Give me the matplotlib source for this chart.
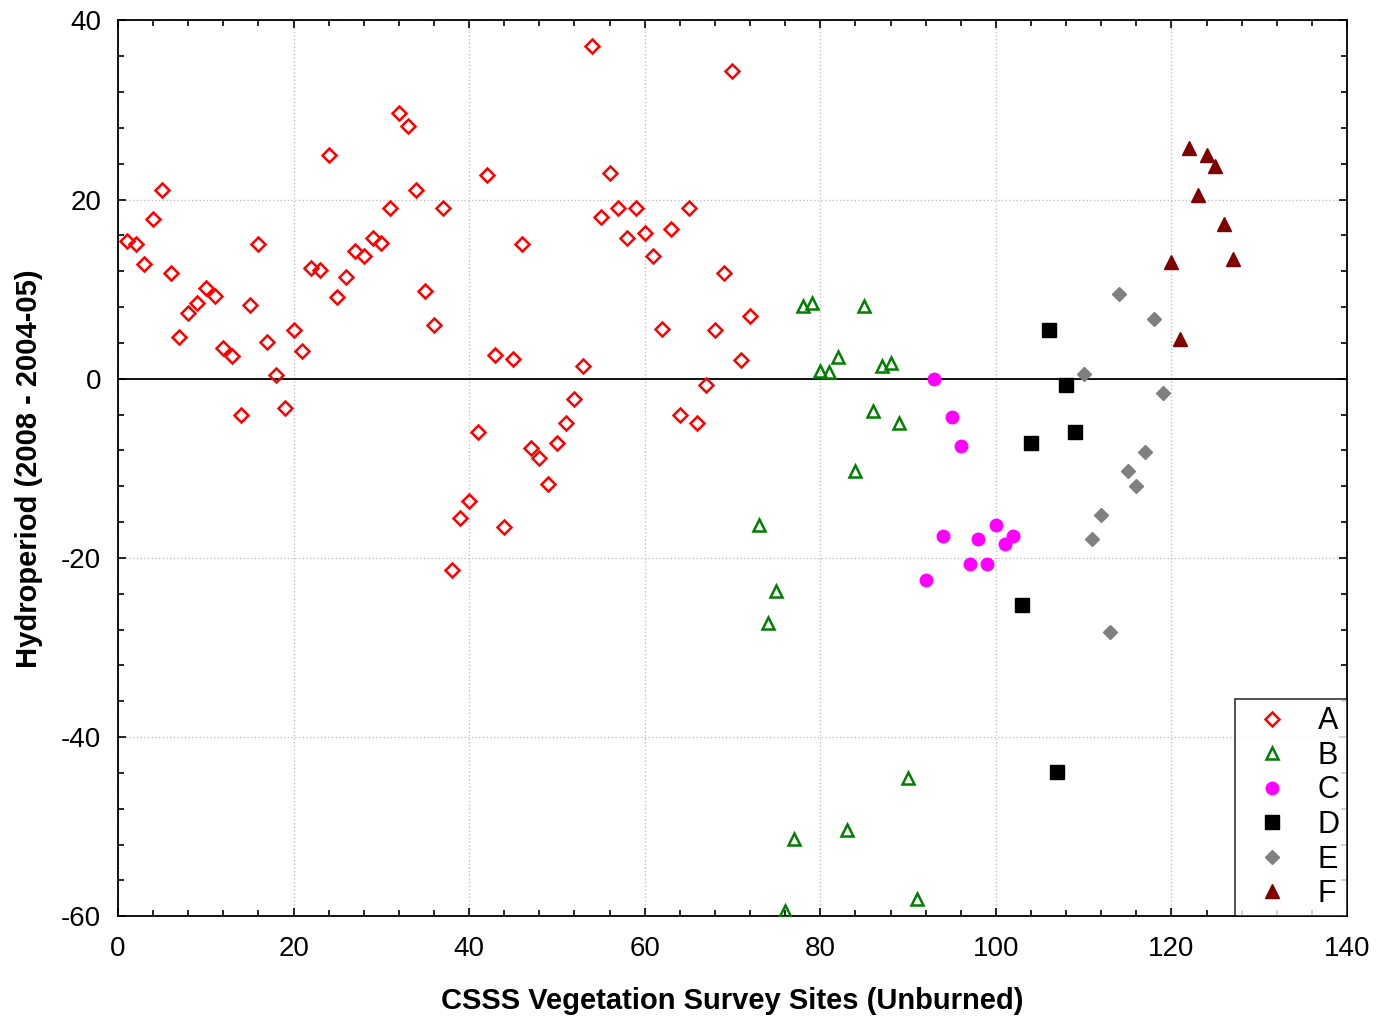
import matplotlib
matplotlib.use("Agg")
import matplotlib.pyplot as plt
from matplotlib.ticker import MultipleLocator

plt.rcParams['font.family'] = ['Liberation Sans', 'DejaVu Sans']
plt.rcParams['axes.unicode_minus'] = False

# Site index and hydroperiod change per group
a_x = list(range(1, 73))
a_y = [15.4, 15.0, 12.8, 17.8, 21.1, 11.8, 4.7, 7.3, 8.5, 10.1,
       9.2, 3.4, 2.5, -4.0, 8.2, 15.0, 4.1, 0.4, -3.3, 5.4,
       3.1, 12.4, 12.1, 25.0, 9.1, 11.4, 14.3, 13.7, 15.7, 15.1,
       19.1, 29.7, 28.2, 21.1, 9.8, 6.0, 19.1, -21.4, -15.6, -13.7,
       -6.0, 22.7, 2.7, -16.6, 2.2, 15.0, -7.7, -8.9, -11.7, -7.2,
       -5.0, -2.3, 1.4, 37.1, 18.1, 23.0, 19.1, 15.7, 19.1, 16.3,
       13.7, 5.6, 16.7, -4.0, 19.1, -5.0, -0.7, 5.4, 11.8, 34.3,
       2.1, 7.0]

b_x = list(range(73, 92))
b_y = [-16.3, -27.3, -23.7, -59.4, -51.4, 8.1, 8.4, 0.9, 0.7, 2.4,
       -50.4, -10.3, 8.1, -3.6, 1.4, 1.7, -5.0, -44.6, -58.1]

c_x = list(range(92, 103))
c_y = [-22.5, 0.0, -17.6, -4.3, -7.5, -20.7, -17.9, -20.7, -16.3, -18.5, -17.6]

d_x = [103, 104, 106, 107, 108, 109]
d_y = [-25.3, -7.2, 5.4, -43.9, -0.7, -5.9]

e_x = list(range(110, 120))
e_y = [0.5, -17.9, -15.2, -28.3, 9.5, -10.3, -12.0, -8.2, 6.7, -1.6]

f_x = list(range(120, 128))
f_y = [13.0, 4.4, 25.7, 20.5, 25.0, 23.7, 17.3, 13.4]

fig = plt.figure(figsize=(13.77, 10.18), dpi=100)
ax = fig.add_axes([0.0857, 0.100, 0.8925, 0.880])

ax.axhline(0, color="black", lw=1.3, zorder=1)

ax.plot(a_x, a_y, 'D', ms=7.5, mfc='none', mec='#ff0000', mew=1.8, ls='none', label='A', zorder=3)
ax.plot(b_x, b_y, '^', ms=9, mfc='none', mec='#008000', mew=1.8, ls='none', label='B', zorder=3)
ax.plot(c_x, c_y, 'o', ms=9, color='#ff00ff', ls='none', label='C', zorder=3)
ax.plot(d_x, d_y, 's', ms=10, color='black', ls='none', label='D', zorder=3)
ax.plot(e_x, e_y, 'D', ms=7.5, color='#808080', ls='none', label='E', zorder=3)
ax.plot(f_x, f_y, '^', ms=10.5, color='#800000', ls='none', label='F', zorder=3)

ax.set_xlim(0, 140)
ax.set_ylim(-60, 40)
ax.xaxis.set_major_locator(MultipleLocator(20))
ax.xaxis.set_minor_locator(MultipleLocator(4))
ax.yaxis.set_major_locator(MultipleLocator(20))
ax.yaxis.set_minor_locator(MultipleLocator(4))
ax.tick_params(which='both', direction='in', top=True, right=True, width=1.2)
ax.tick_params(which='major', length=6, labelsize=20)
ax.tick_params(axis='x', which='major', pad=14)
ax.tick_params(axis='y', which='major', pad=12)
ax.tick_params(which='minor', length=4)
for s in ax.spines.values():
    s.set_linewidth(1.3)
ax.grid(True, which='major', color='#c0c0c0', ls=':', lw=1)
ax.set_axisbelow(True)

ax.set_xlabel('CSSS Vegetation Survey Sites (Unburned)', fontsize=21, fontweight='bold', labelpad=18)
ax.set_ylabel('Hydroperiod (2008 - 2004-05)', fontsize=21, fontweight='bold', labelpad=13)

leg = ax.legend(loc='lower right', fontsize=22, frameon=True, fancybox=False,
                edgecolor='black', borderaxespad=0, handletextpad=0.5,
                labelspacing=0.15, borderpad=0.23, handlelength=2.0)
leg.get_frame().set_linewidth(1.2)

fig.savefig('out.png', dpi=100)
